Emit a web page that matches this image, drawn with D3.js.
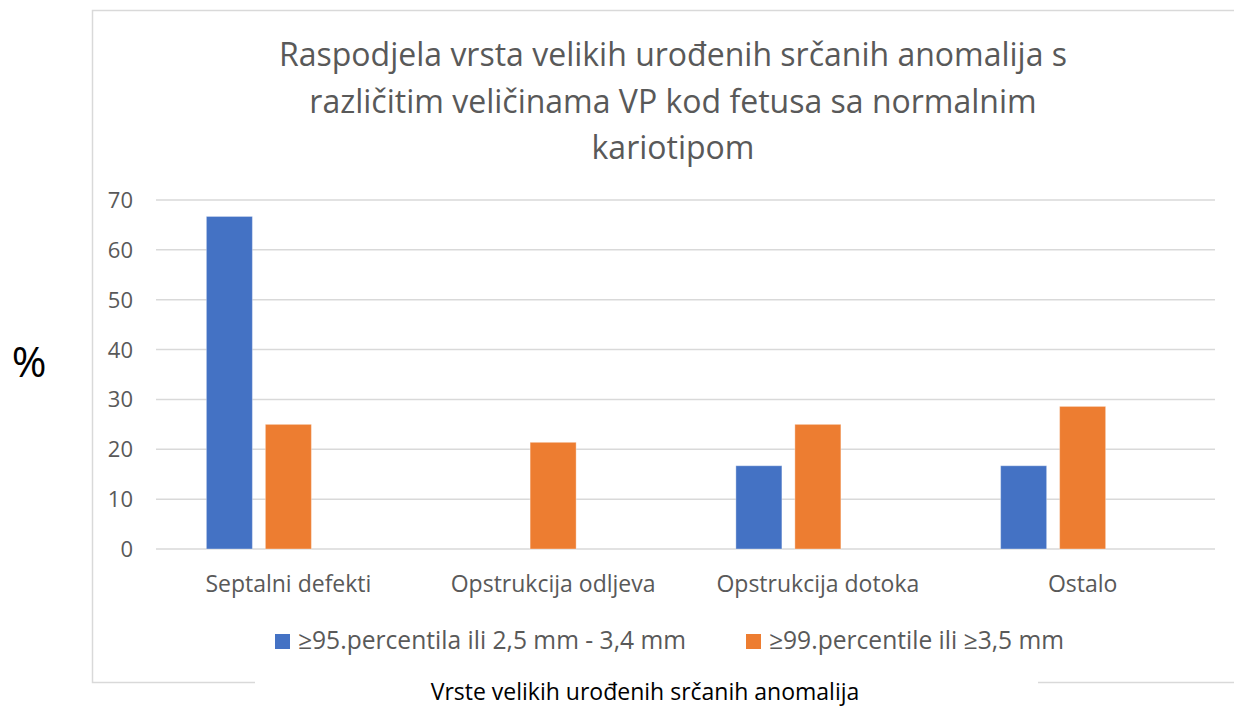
<!DOCTYPE html>
<meta charset="utf-8">
<title>Raspodjela vrsta velikih urođenih srčanih anomalija</title>
<style>
    body { margin: 0; background: #fff; }
    text { font-family: "Open Sans", sans-serif; }
    .grid line { stroke: #d9d9d9; stroke-width: 1.5px; }
</style>
<svg width="1234" height="708"></svg>
<script src="https://cdn.jsdelivr.net/npm/d3@7"></script>
<script>

    // data
    var categories = ["Septalni defekti", "Opstrukcija odljeva", "Opstrukcija dotoka", "Ostalo"];
    var seriesNames = ["≥95.percentila ili 2,5 mm - 3,4 mm", "≥99.percentile ili ≥3,5 mm"];
    var seriesA = [66.7, 0, 16.7, 16.7];
    var seriesB = [25, 21.4, 25, 28.6];
    var yTicks = [0, 10, 20, 30, 40, 50, 60, 70];
    var titleLines = ["Raspodjela vrsta velikih urođenih srčanih anomalija s",
                      "različitim veličinama VP kod fetusa sa normalnim",
                      "kariotipom"];
    var colors = ["#4472C4", "#ED7D31"];

    var svg = d3.select("svg"),
        width = +svg.attr("width"),
        height = +svg.attr("height");

    var plot = { left: 156, right: 1215, top: 200, bottom: 549 };

    // chart frame (bottom edge broken by the axis title)
    svg.append("path")
        .attr("d", "M1240,10.5 H92.5 V682.5 H255 M1038,682.5 H1240")
        .attr("fill", "none")
        .attr("stroke", "#d9d9d9")
        .attr("stroke-width", 1.5);

    var x = d3.scaleBand()
        .domain(categories)
        .range([plot.left, plot.right]);

    // three slots per category, Excel leaves the last one empty
    var xs = d3.scaleBand()
        .domain([0, 1, 2])
        .range([-82, 82])
        .paddingInner(0.22);

    var y = d3.scaleLinear()
        .domain([0, 70])
        .range([plot.bottom, plot.top]);

    var grid = svg.append("g").attr("class", "grid");
    grid.selectAll("line")
        .data(yTicks)
        .enter().append("line")
        .attr("x1", plot.left)
        .attr("x2", plot.right)
        .attr("y1", function (d) { return y(d); })
        .attr("y2", function (d) { return y(d); });

    svg.append("g").selectAll("text")
        .data(yTicks)
        .enter().append("text")
        .attr("x", 133)
        .attr("y", function (d) { return y(d) + 8; })
        .attr("text-anchor", "end")
        .attr("fill", "#595959")
        .style("font-size", "22px")
        .text(function (d) { return d; });

    var rows = categories.map(function (c, i) {
        return { cat: c, vals: [seriesA[i], seriesB[i]] };
    });

    var groups = svg.append("g").selectAll("g")
        .data(rows)
        .enter().append("g")
        .attr("transform", function (d) {
            return "translate(" + (x(d.cat) + x.bandwidth() / 2) + ",0)";
        });

    groups.selectAll("rect")
        .data(function (d) {
            return d.vals.map(function (v, j) { return { v: v, j: j }; });
        })
        .enter().append("rect")
        .filter(function (d) { return d.v > 0; })
        .attr("x", function (d) { return xs(d.j); })
        .attr("width", xs.bandwidth())
        .attr("y", function (d) { return y(d.v); })
        .attr("height", function (d) { return y(0) - y(d.v); })
        .attr("fill", function (d) { return colors[d.j]; })
        .attr("stroke", "#fff")
        .attr("stroke-opacity", 0.35)
        .attr("stroke-width", 1);

    svg.append("g").selectAll("text")
        .data(categories)
        .enter().append("text")
        .attr("x", function (d) { return x(d) + x.bandwidth() / 2; })
        .attr("y", 592)
        .attr("text-anchor", "middle")
        .attr("fill", "#595959")
        .style("font-size", "23px")
        .text(function (d) { return d; });

    // title
    svg.append("g").selectAll("text")
        .data(titleLines)
        .enter().append("text")
        .attr("x", 673)
        .attr("y", function (d, i) { return 66 + i * 46.5; })
        .attr("text-anchor", "middle")
        .attr("fill", "#595959")
        .style("font-size", "32px")
        .text(function (d) { return d; });

    // legend
    var legendX = [275, 746];
    var legend = svg.append("g").selectAll("g")
        .data(seriesNames)
        .enter().append("g")
        .attr("transform", function (d, i) { return "translate(" + legendX[i] + ",634)"; });
    legend.append("rect")
        .attr("width", 15)
        .attr("height", 15)
        .attr("fill", function (d, i) { return colors[i]; });
    legend.append("text")
        .attr("x", 23)
        .attr("y", 15)
        .attr("fill", "#595959")
        .style("font-size", "24.6px")
        .text(function (d) { return d; });

    // axis titles
    svg.append("text")
        .attr("x", 645)
        .attr("y", 700)
        .attr("text-anchor", "middle")
        .attr("fill", "#000")
        .style("font-size", "23px")
        .text("Vrste velikih urođenih srčanih anomalija");

    svg.append("text")
        .attr("x", 29)
        .attr("y", 377)
        .attr("text-anchor", "middle")
        .attr("fill", "#000")
        .style("font-size", "42px")
        .text("%");

</script>
